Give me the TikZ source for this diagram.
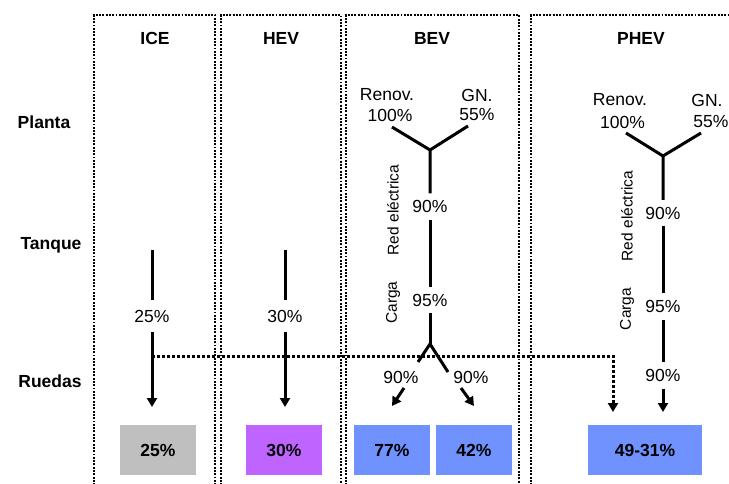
\documentclass[tikz,border=0pt]{standalone}
\usepackage{fontspec}
\setmainfont{Liberation Sans}
\usetikzlibrary{arrows.meta}
\definecolor{iceg}{RGB}{191,191,191}
\definecolor{hevp}{RGB}{192,100,255}
\definecolor{bevb}{RGB}{112,146,255}
\begin{document}
\begin{tikzpicture}[x=1pt,y=-1pt,
  frame/.style={line width=1.9pt, dash pattern=on 1.9pt off 1.4pt},
  flow/.style={line width=3pt},
  arr/.style={flow, -{Triangle[length=9pt,width=10pt]}},
  link/.style={line width=3pt, dash pattern=on 3pt off 2pt, -{Triangle[length=9pt,width=10pt]}},
  txt/.style={font=\fontsize{17.5}{20}\selectfont, inner sep=0pt},
  hdr/.style={inner sep=0pt, font=\bfseries\fontsize{17.5}{20}\selectfont},
  pct/.style={txt, minimum height=26pt},
  vlab/.style={inner sep=0pt, rotate=90, font=\fontsize{15.5}{18}\selectfont},
  result/.style={minimum width=76pt, minimum height=50pt, inner sep=0pt,
    font=\bfseries\fontsize{17.5}{20}\selectfont}]
\clip (0,0) rectangle (729,484);

% column frames
\draw[frame] (94,495) -- (94,15) -- (215,15) -- (215,495);
\draw[frame] (221,495) -- (221,15) -- (341,15) -- (341,495);
\draw[frame] (346,495) -- (346,15) -- (519,15) -- (519,495);
\draw[frame] (531,495) -- (531,15) -- (760,15) -- (760,495);

% headers
\node[hdr] (hice)  at (155,38) {ICE};
\node[hdr] (hhev)  at (281,38) {HEV};
\node[hdr] (hbev)  at (432,38) {BEV};
\node[hdr] (hphev) at (641,38) {PHEV};

% row labels
\node[hdr] (rplanta) at (44,122) {Planta};
\node[hdr] (rtanque) at (51,245) {Tanque};
\node[hdr] (rruedas) at (50,381) {Ruedas};

% ICE
\coordinate (icetop) at (152,250);
\coordinate (icetip) at (152,407);
\node[pct, minimum height=32pt] (icep) at (152,316) {25\%};
\draw[flow] (icetop) -- (icep);
\draw[arr] (icep) -- (icetip);

% HEV
\coordinate (hevtop) at (285,250);
\coordinate (hevtip) at (285,407);
\node[pct, minimum height=32pt] (hevp) at (285,316) {30\%};
\draw[flow] (hevtop) -- (hevp);
\draw[arr] (hevp) -- (hevtip);

% BEV
\node[txt] (bren)  at (387,95)  {Renov.};
\node[txt] (bren2) at (390,115) {100\%};
\node[txt] (bgn)   at (477,95)  {GN.};
\node[txt] (bgn2)  at (477,115) {55\%};
\coordinate (bl) at (392,127);
\coordinate (br) at (468,126);
\coordinate (bj) at (430,150);
\node[pct] (bgrid) at (430,206.5) {90\%};
\node[pct] (bchg)  at (430,300) {95\%};
\coordinate (bj2) at (430,344);
\node[vlab] (bgridl) at (393,210) {Red eléctrica};
\node[vlab] (bchgl)  at (393,302.5) {Carga};
\draw[flow] (bl) -- (bj) -- (bgrid);
\draw[flow] (br) -- (bj);
\draw[flow] (bgrid) -- (bchg);
\draw[flow] (bchg) -- (bj2);
\coordinate (bll) at (418,362);
\coordinate (brr) at (448,372);
\draw[flow] (bll) -- (bj2) -- (brr);
\node[txt] (bw1) at (401,377) {90\%};
\node[txt] (bw2) at (471,377) {90\%};
\coordinate (ba1s) at (404,388);
\coordinate (ba1e) at (392,406);
\coordinate (ba2s) at (461,388);
\coordinate (ba2e) at (474,406);
\draw[arr] (ba1s) -- (ba1e);
\draw[arr] (ba2s) -- (ba2e);

% PHEV
\node[txt] (pren)  at (620,100) {Renov.};
\node[txt] (pren2) at (622.5,122) {100\%};
\node[txt] (pgn)   at (707,100) {GN.};
\node[txt] (pgn2)  at (711,122) {55\%};
\coordinate (pl) at (626,133);
\coordinate (pr) at (701,133);
\coordinate (pj) at (663,156);
\node[pct] (pgrid) at (663,213) {90\%};
\node[pct] (pchg)  at (663,306.5) {95\%};
\node[pct] (pwh)   at (663,375.5) {90\%};
\coordinate (ptip) at (663,412);
\node[vlab] (pgridl) at (627,216) {Red eléctrica};
\node[vlab] (pchgl)  at (627,309) {Carga};
\draw[flow] (pl) -- (pj) -- (pgrid);
\draw[flow] (pr) -- (pj);
\draw[flow] (pgrid) -- (pchg);
\draw[flow] (pchg) -- (pwh);
\draw[arr] (pwh) -- (ptip);

% hybrid link from the ICE path to the PHEV wheels
\coordinate (lk0) at (152,356);
\coordinate (lk1) at (613,356);
\coordinate (lk2) at (613,412);
\draw[link] (lk0) -- (lk1) -- (lk2);

% results
\node[result, fill=iceg] (resice) at (158,450) {25\%};
\node[result, fill=hevp] (reshev) at (284,450) {30\%};
\node[result, fill=bevb] (resb1)  at (392,450) {77\%};
\node[result, fill=bevb] (resb2)  at (474,450) {42\%};
\node[result, fill=bevb, minimum width=114pt] (resp) at (645,450) {49-31\%};
\end{tikzpicture}
\end{document}
